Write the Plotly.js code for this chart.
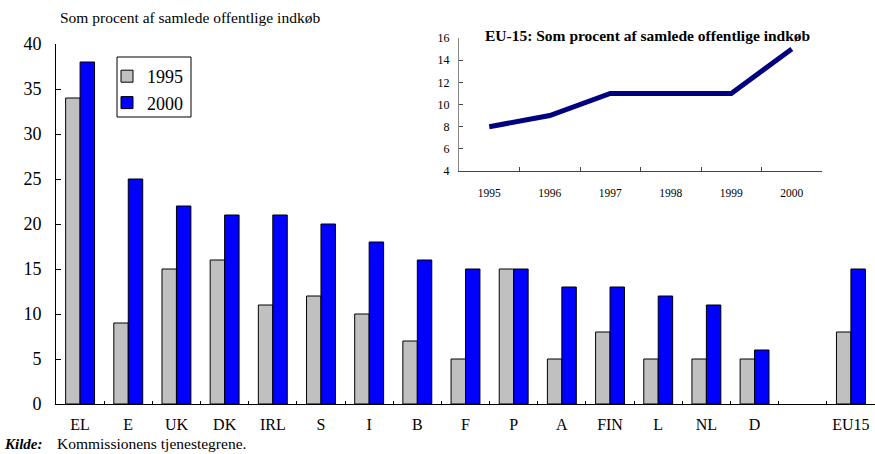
<!DOCTYPE html>
<html>
<head>
<meta charset="utf-8">
<script src="https://cdn.plot.ly/plotly-3.0.1.min.js"></script>
<style>html,body{margin:0;padding:0;background:#fff}#chart{width:875px;height:454px}</style>
</head>
<body>
<div id="chart"></div>
<script>
const countries = ["EL","E","UK","DK","IRL","S","I","B","F","P","A","FIN","L","NL","D","EU15"];
const axisOrder = ["EL","E","UK","DK","IRL","S","I","B","F","P","A","FIN","L","NL","D"," ","EU15"];
const values1995 = [34,9,15,16,11,12,10,7,5,15,5,8,5,5,5,8];
const values2000 = [38,25,22,21,21,20,18,16,15,15,13,13,12,11,6,15];
const insetYears = ["1995","1996","1997","1998","1999","2000"];
const insetValues = [8,9,11,11,11,15];

const serif = "'Liberation Serif', 'Times New Roman', Times, serif";
const L = 56, T = 38, W = 875, H = 454, B = 50;
const pw = W - L, ph = H - T - B;
const px = x => (x - L) / pw;
const py = y => (H - B - y) / ph;

const traces = [
  {type:"bar", name:"1995", x:countries, y:values1995,
   marker:{color:"#C0C0C0", line:{color:"#000", width:1}}},
  {type:"bar", name:"2000", x:countries, y:values2000,
   marker:{color:"#0000FF", line:{color:"#000", width:1}}},
  {type:"scatter", mode:"lines", x:insetYears, y:insetValues, xaxis:"x2", yaxis:"y2",
   line:{color:"#000080", width:5}, showlegend:false}
];

const layout = {
  width:W, height:H,
  margin:{l:L, r:0, t:T, b:B},
  paper_bgcolor:"#fff", plot_bgcolor:"rgba(0,0,0,0)",
  font:{family:serif, color:"#000"},
  barmode:"group", bargap:0.4, bargroupgap:0,
  showlegend:true,
  legend:{x:px(107), y:py(58), xanchor:"left", yanchor:"top",
    borderwidth:0, bgcolor:"rgba(0,0,0,0)",
    font:{family:serif, size:18}, itemwidth:30, tracegroupgap:0},
  shapes:[
    {type:"rect", xref:"paper", yref:"paper", x0:px(117), x1:px(191), y0:py(117), y1:py(57),
     line:{color:"#000", width:1}, fillcolor:"#fff", layer:"below"}
  ],
  xaxis:{type:"category", categoryorder:"array", categoryarray:axisOrder,
    range:[-0.5,16.5], showline:true, linecolor:"#000", linewidth:1,
    ticks:"inside", tickson:"boundaries", ticklen:3, tickcolor:"#000",
    tickfont:{family:serif, size:16}, ticklabelstandoff:6, showgrid:false, zeroline:false},
  yaxis:{domain:[0, py(44)], range:[0,40], dtick:5, showline:true, linecolor:"#000", linewidth:1,
    ticks:"inside", ticklen:5, tickcolor:"#000", tickfont:{family:serif, size:18},
    ticklabelstandoff:10, showgrid:false, zeroline:false},
  xaxis2:{anchor:"y2", domain:[px(459), px(822)], type:"category", range:[-0.5,5.5],
    showline:true, linecolor:"#444", linewidth:1, ticks:"inside", tickson:"boundaries",
    ticklen:4, tickcolor:"#444", tickfont:{family:serif, size:11.5}, ticklabelstandoff:11,
    showgrid:false, zeroline:false},
  yaxis2:{anchor:"x2", domain:[py(171), 1], range:[4,16], dtick:2,
    showline:true, linecolor:"#888", linewidth:1, ticks:"inside", ticklen:4, tickcolor:"#444",
    tickfont:{family:serif, size:12}, ticklabelstandoff:6, showgrid:false, zeroline:false},
  annotations:[
    {xref:"paper", yref:"paper", x:px(58), y:py(18), xanchor:"left", yanchor:"middle",
     text:"Som procent af samlede offentlige indkøb", showarrow:false, font:{family:serif, size:15.5}},
    {xref:"paper", yref:"paper", x:px(647), y:py(35), xanchor:"center", yanchor:"middle",
     text:"<b>EU-15: Som procent af samlede offentlige indkøb</b>", showarrow:false, font:{family:serif, size:15.5}},
    {xref:"paper", yref:"paper", x:px(2), y:py(444), xanchor:"left", yanchor:"middle",
     text:"<b><i>Kilde:</i></b>", showarrow:false, font:{family:serif, size:15}},
    {xref:"paper", yref:"paper", x:px(55), y:py(444), xanchor:"left", yanchor:"middle",
     text:"Kommissionens tjenestegrene.", showarrow:false, font:{family:serif, size:15.5}}
  ]
};

Plotly.newPlot("chart", traces, layout, {displayModeBar:false, staticPlot:true});
</script>
</body>
</html>
